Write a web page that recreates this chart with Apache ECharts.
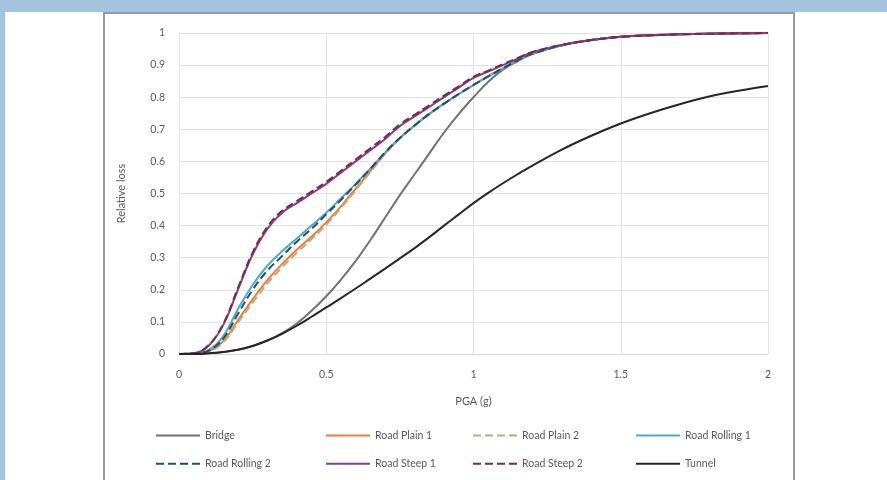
<!DOCTYPE html>
<html>
<head>
<meta charset="utf-8">
<script src="https://cdn.jsdelivr.net/npm/echarts@6/dist/echarts.min.js"></script>
<style>
  body { margin: 0; background: #a3c3df; width: 887px; height: 480px; overflow: hidden; position: relative; }
  #paper { position: absolute; left: 5px; top: 12px; width: 882px; height: 468px; background: #fff; }
  #frame { position: absolute; left: 103px; top: 12px; width: 688px; height: 480px; border: 2px solid #9a9a9a; border-bottom: none; }
  #chart { position: absolute; left: 0; top: 0; width: 887px; height: 480px; }
</style>
</head>
<body>
<div id="paper"></div>
<div id="frame"></div>
<div id="chart"></div>
<script>
// PGA (g) sample points shared by all curves
const pga = [0, 0.05, 0.1, 0.15, 0.2, 0.25, 0.3, 0.35, 0.4, 0.45, 0.5, 0.55, 0.6, 0.65, 0.7, 0.75, 0.8, 0.85, 0.9, 0.95,
  1.0, 1.05, 1.1, 1.15, 1.2, 1.3, 1.4, 1.5, 1.6, 1.7, 1.8, 1.9, 2.0];

// relative loss
const bridge = [0, 0, 0.002, 0.006, 0.013, 0.025, 0.042, 0.065, 0.095, 0.135, 0.18, 0.232, 0.29, 0.355, 0.425, 0.495, 0.56,
  0.625, 0.69, 0.748, 0.8, 0.848, 0.886, 0.912, 0.935, 0.962, 0.978, 0.988, 0.993, 0.996, 0.998, 0.999, 1];
const roadPlain1 = [0, 0.001, 0.008, 0.04, 0.105, 0.17, 0.23, 0.28, 0.325, 0.365, 0.41, 0.46, 0.515, 0.57, 0.625, 0.672,
  0.712, 0.748, 0.78, 0.81, 0.838, 0.865, 0.89, 0.915, 0.935, 0.962, 0.978, 0.988, 0.993, 0.996, 0.998, 0.999, 1];
const roadPlain2 = [0, 0.001, 0.007, 0.036, 0.098, 0.16, 0.22, 0.27, 0.315, 0.358, 0.403, 0.455, 0.51, 0.567, 0.623, 0.671,
  0.712, 0.748, 0.78, 0.81, 0.838, 0.865, 0.89, 0.915, 0.935, 0.962, 0.978, 0.988, 0.993, 0.996, 0.998, 0.999, 1];
const roadRolling1 = [0, 0.002, 0.012, 0.055, 0.14, 0.215, 0.275, 0.32, 0.36, 0.4, 0.44, 0.485, 0.53, 0.578, 0.628, 0.673,
  0.712, 0.748, 0.78, 0.81, 0.838, 0.865, 0.89, 0.915, 0.935, 0.962, 0.978, 0.988, 0.993, 0.996, 0.998, 0.999, 1];
const roadRolling2 = [0, 0.002, 0.01, 0.048, 0.125, 0.2, 0.26, 0.305, 0.35, 0.39, 0.435, 0.48, 0.528, 0.577, 0.628, 0.673,
  0.712, 0.748, 0.78, 0.81, 0.838, 0.865, 0.89, 0.915, 0.935, 0.962, 0.978, 0.988, 0.993, 0.996, 0.998, 0.999, 1];
const roadSteep1 = [0, 0.002, 0.025, 0.09, 0.2, 0.31, 0.39, 0.44, 0.47, 0.5, 0.53, 0.565, 0.6, 0.635, 0.67, 0.71, 0.74,
  0.77, 0.8, 0.83, 0.86, 0.88, 0.9, 0.92, 0.94, 0.963, 0.978, 0.988, 0.993, 0.996, 0.998, 0.999, 1];
const roadSteep2 = [0, 0.002, 0.027, 0.093, 0.205, 0.316, 0.396, 0.446, 0.476, 0.506, 0.536, 0.571, 0.606, 0.641, 0.676,
  0.715, 0.745, 0.775, 0.805, 0.834, 0.863, 0.883, 0.903, 0.922, 0.941, 0.963, 0.978, 0.988, 0.993, 0.996, 0.998, 0.999, 1];
const tunnel = [0, 0, 0.002, 0.006, 0.013, 0.025, 0.042, 0.063, 0.088, 0.116, 0.145, 0.174, 0.204, 0.235, 0.266, 0.298,
  0.33, 0.364, 0.4, 0.435, 0.47, 0.502, 0.532, 0.56, 0.587, 0.637, 0.68, 0.718, 0.75, 0.778, 0.802, 0.82, 0.835];

const names = ['Bridge', 'Road Plain 1', 'Road Plain 2', 'Road Rolling 1', 'Road Rolling 2', 'Road Steep 1', 'Road Steep 2', 'Tunnel'];
const values = [bridge, roadPlain1, roadPlain2, roadRolling1, roadRolling2, roadSteep1, roadSteep2, tunnel];
const colors = ['#727272', '#ed7d31', '#c8a57a', '#4bacc6', '#1f4e79', '#8e3a8e', '#7b2c3c', '#262626'];
const dashes = ['solid', 'solid', 'dashed', 'solid', 'dashed', 'solid', 'dashed', 'solid'];

const textColor = '#595959';
const font = 'Lato, "Open Sans", sans-serif';

const chart = echarts.init(document.getElementById('chart'));

// one vertical legend per column so the columns line up like the original
const legendCols = [[0, 4], [1, 5], [2, 6], [3, 7]];
const legendLeft = [150, 320, 467, 630];
const legends = legendCols.map((col, i) => ({
  orient: 'vertical',
  left: legendLeft[i],
  top: 425,
  itemGap: 17,
  itemWidth: 44,
  itemHeight: 14,
  itemStyle: { opacity: 0 },
  data: col.map((k) => names[k]),
  textStyle: { color: textColor, fontSize: 10.5, fontFamily: font }
}));

chart.setOption({
  animation: false,
  textStyle: { fontFamily: font },
  grid: { left: 179, right: 119, top: 33, bottom: 126 },
  legend: legends,
  xAxis: {
    type: 'value',
    min: 0,
    max: 2,
    interval: 0.5,
    name: 'PGA (g)',
    nameLocation: 'middle',
    nameGap: 42,
    nameTextStyle: { color: textColor, fontSize: 11 },
    axisLine: { lineStyle: { color: '#d9d9d9' } },
    axisTick: { show: false },
    axisLabel: { color: textColor, fontSize: 10.5, margin: 15 },
    splitLine: { lineStyle: { color: '#e3e3e3' } }
  },
  yAxis: {
    type: 'value',
    min: 0,
    max: 1,
    interval: 0.1,
    name: 'Relative loss',
    nameLocation: 'middle',
    nameGap: 52,
    nameTextStyle: { color: textColor, fontSize: 11 },
    axisLine: { show: true, lineStyle: { color: '#e3e3e3' } },
    axisTick: { show: false },
    axisLabel: { color: textColor, fontSize: 10.5, margin: 14 },
    splitLine: { lineStyle: { color: '#e3e3e3' } }
  },
  series: names.map((name, k) => ({
    name: name,
    type: 'line',
    smooth: 0.4,
    symbol: 'none',
    data: pga.map((x, i) => [x, values[k][i]]),
    itemStyle: { color: colors[k] },
    lineStyle: { color: colors[k], width: 2, type: dashes[k] }
  }))
});
</script>
</body>
</html>
